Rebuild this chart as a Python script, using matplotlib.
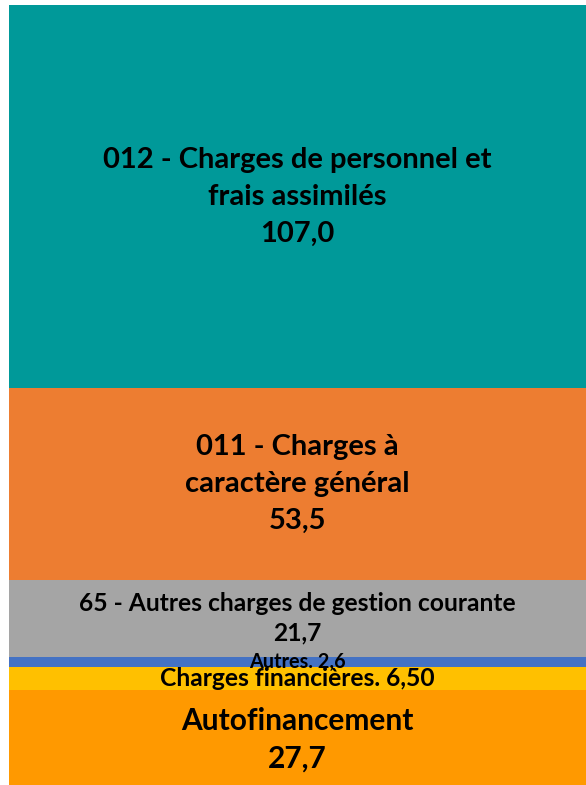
# Одна столбчатая диаграмма с накоплением: структура расходов
import matplotlib.pyplot as plt

# ---------------------------------------------------------------------------
# Данные (снизу вверх)
# ---------------------------------------------------------------------------
names = ["Autofinancement",
         "Charges financières",
         "Autres",
         "65 - Autres charges de gestion courante",
         "011 - Charges à\ncaractère général",
         "012 - Charges de personnel et\nfrais assimilés"]
values = [27.7, 6.50, 2.6, 21.7, 53.5, 107.0]
value_texts = ["27,7", "6,50", "2,6", "21,7", "53,5", "107,0"]
colors = ["#FF9900", "#FFC000", "#4472C4", "#A5A5A5", "#ED7D31", "#009999"]

# подписи: (шаблон, размер шрифта, межстрочный интервал)
label_styles = [("{n}\n{v}", 21.5, 1.42),
                ("{n}. {v}", 17.7, 1.2),
                ("{n}. {v}", 14.3, 1.2),
                ("{n}\n{v}", 17.7, 1.35),
                ("{n}\n{v}", 21, 1.52),
                ("{n}\n{v}", 21, 1.52)]

plt.rcParams['font.family'] = ['Lato', 'DejaVu Sans']

fig = plt.figure(figsize=(5.86, 7.85), dpi=100)
ax = fig.add_axes([9 / 586, 0, 577 / 586, 780 / 785])

total = sum(values)
bottom = 0
for name, val, vt, col, (tmpl, fs, ls) in zip(names, values, value_texts, colors, label_styles):
    ax.bar(0, val, bottom=bottom, width=1.0, color=col, edgecolor='none')
    ax.text(0, bottom + val / 2, tmpl.format(n=name, v=vt),
            ha='center', va='center', fontsize=fs, fontweight='bold',
            color='black', linespacing=ls)
    bottom += val

ax.set_xlim(-0.5, 0.5)
ax.set_ylim(total - 780 / 3.58, total)
ax.axis('off')

fig.savefig("out.png", dpi=100, facecolor='white')
